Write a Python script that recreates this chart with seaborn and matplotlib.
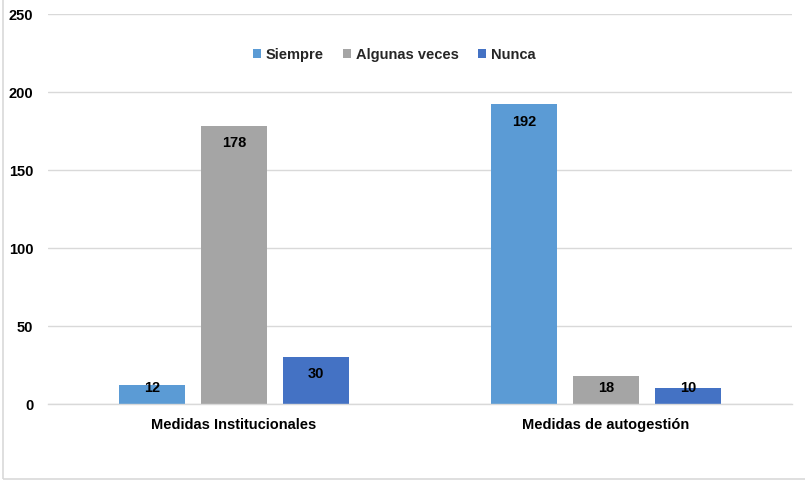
import matplotlib
matplotlib.use("Agg")
import matplotlib.pyplot as plt
import seaborn as sns
import pandas as pd
from matplotlib.patches import Rectangle
from matplotlib import font_manager

categories = ["Medidas Institucionales", "Medidas de autogestión"]
series = ["Siempre", "Algunas veces", "Nunca"]
siempre = [12, 192]
algunas = [178, 18]
nunca = [30, 10]
colors = ["#5B9BD5", "#A5A5A5", "#4472C4"]
yticks = [0, 50, 100, 150, 200, 250]

rows = []
for s, vals in zip(series, [siempre, algunas, nunca]):
    for c, v in zip(categories, vals):
        rows.append({"cat": c, "serie": s, "val": v})
df = pd.DataFrame(rows)

names = {f.name for f in font_manager.fontManager.ttflist}
fam = "Liberation Sans Narrow" if "Liberation Sans Narrow" in names else "Liberation Sans"
fs = 11.5 if fam == "Liberation Sans Narrow" else 10.5

sns.set_theme(style="white")
plt.rcParams["font.family"] = [fam, "DejaVu Sans"]
plt.rcParams["font.weight"] = "bold"

fig = plt.figure(figsize=(8.05, 4.8), dpi=100)
ax = fig.add_axes([48/805, 1-404/480, (792-48)/805, (404-14)/480])

sns.barplot(data=df, x="cat", y="val", hue="serie", order=categories,
            hue_order=series, palette=colors, width=0.66, gap=0.2,
            saturation=1, edgecolor="none", linewidth=0, ax=ax, legend=True)

ax.set_ylim(0, 250)
ax.set_xlim(-0.5, 1.5)
ax.set_yticks(yticks)
ax.set_yticklabels([str(t) for t in yticks], fontsize=fs, fontweight="bold", color="black")
ax.tick_params(axis="y", length=0, pad=10.5)
ax.tick_params(axis="x", length=0, pad=10, labelsize=fs, labelcolor="black")
for lab in ax.get_xticklabels():
    lab.set_fontweight("bold")
ax.set_xlabel("")
ax.set_ylabel("")
ax.grid(axis="y", color="#D9D9D9", linewidth=1)
ax.set_axisbelow(True)
for sp in ["left", "right", "top"]:
    ax.spines[sp].set_visible(False)
ax.spines["bottom"].set_color("#D9D9D9")
ax.spines["bottom"].set_linewidth(1)

for cont in ax.containers:
    for bar in cont:
        v = bar.get_height()
        xc = bar.get_x() + bar.get_width()/2
        yc = max(v - 11, 10.3)
        ax.text(xc, yc, f"{v:.0f}", ha="center", va="center",
                fontsize=fs, fontweight="bold", color="black")

leg = ax.legend(loc="center", bbox_to_anchor=(0.465, 0.895), ncol=3, frameon=False,
                fontsize=fs, handlelength=0.6, handleheight=0.6,
                handletextpad=0.3, columnspacing=1.3)
for t in leg.get_texts():
    t.set_fontweight("bold")

fig.patches.append(Rectangle((3/805, 1.5/480), 1.2, 1.2, transform=fig.transFigure,
                             fill=False, edgecolor="#D9D9D9", linewidth=1.2))

fig.savefig("out.png", dpi=100)
